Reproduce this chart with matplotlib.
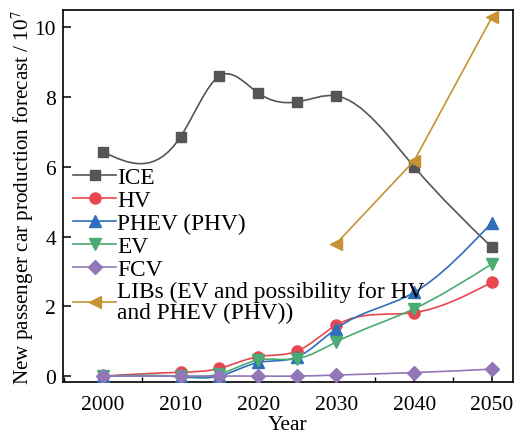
import numpy as np
import matplotlib
matplotlib.use("Agg")
import matplotlib.pyplot as plt
from matplotlib.path import Path
from matplotlib.patches import PathPatch
from matplotlib.lines import Line2D
from matplotlib.ticker import MultipleLocator

plt.rcParams['font.family'] = ['Liberation Serif', 'DejaVu Serif']
plt.rcParams['mathtext.fontset'] = 'stix'

years = [2000, 2010, 2015, 2020, 2025, 2030, 2040, 2050]
ice = [6.43, 6.86, 8.60, 8.11, 7.86, 8.03, 6.00, 3.69]
hv = [0.00, 0.11, 0.22, 0.56, 0.72, 1.46, 1.82, 2.69]
phev = [0.00, -0.02, 0.00, 0.39, 0.55, 1.36, 2.40, 4.40]
ev = [0.00, 0.00, 0.06, 0.46, 0.50, 0.98, 1.93, 3.22]
fcv = [0.00, 0.00, 0.00, 0.00, 0.00, 0.03, 0.10, 0.20]
lib_years = [2030, 2040, 2050]
libs = [3.80, 6.17, 10.29]

labels = ['ICE', 'HV', 'PHEV (PHV)', 'EV', 'FCV',
          'LIBs (EV and possibility for HV\nand PHEV (PHV))']
colors = ['#555555', '#e8474f', '#2f6eba', '#4aab73', '#9176b8', '#c59234']
markers = ['s', 'o', '^', 'v', 'D', '<']
msizes = [7, 8, 9, 9, 7.5, 9]
smooth = [True, True, True, True, True, False]


def spline_path(x, y):
    x = np.asarray(x, float)
    y = np.asarray(y, float)
    n = len(x)
    h = np.diff(x)
    A = np.zeros((n, n))
    b = np.zeros(n)
    A[0, 0] = 2 * h[0]; A[0, 1] = h[0]
    b[0] = 3 * (y[1] - y[0])
    A[-1, -1] = 2 * h[-1]; A[-1, -2] = h[-1]
    b[-1] = 3 * (y[-1] - y[-2])
    for i in range(1, n - 1):
        A[i, i - 1] = h[i]
        A[i, i] = 2 * (h[i - 1] + h[i])
        A[i, i + 1] = h[i - 1]
        b[i] = 3 * (h[i] * (y[i] - y[i - 1]) / h[i - 1] + h[i - 1] * (y[i + 1] - y[i]) / h[i])
    m = np.linalg.solve(A, b)
    verts = [(x[0], y[0])]
    codes = [Path.MOVETO]
    for i in range(n - 1):
        d = h[i] / 3
        verts += [(x[i] + d, y[i] + d * m[i]), (x[i + 1] - d, y[i + 1] - d * m[i + 1]), (x[i + 1], y[i + 1])]
        codes += [Path.CURVE4] * 3
    return Path(verts, codes)


fig = plt.figure(figsize=(5.27, 4.35), dpi=100)
ax = fig.add_axes([0.1195, 0.1195, 0.854, 0.855])

series = [(years, ice), (years, hv), (years, phev), (years, ev), (years, fcv), (lib_years, libs)]
handles = []
for k, ((xs, ys), c, mk, ms, lab, sm) in enumerate(zip(series, colors, markers, msizes, labels, smooth)):
    if sm:
        p = PathPatch(spline_path(xs, ys), facecolor='none', edgecolor=c, lw=1.2, zorder=2 + k)
        ax.add_patch(p)
        ax.plot(xs, ys, ls='none', marker=mk, ms=ms, color=c, mec=c, zorder=2.5 + k)
    else:
        ax.plot(xs, ys, ls='-', lw=1.2, marker=mk, ms=ms, color=c, mec=c, zorder=2.5 + k)
    handles.append(Line2D([], [], color=c, lw=1.2, marker=mk, ms=ms, mec=c))

ax.set_xlim(1994.9, 2052.7)
ax.set_ylim(-0.17, 10.49)
ax.set_xticks([2000, 2010, 2020, 2030, 2040, 2050])
ax.xaxis.set_minor_locator(MultipleLocator(5))
ax.set_yticks([0, 2, 4, 6, 8, 10])
ax.tick_params(axis='both', which='major', direction='in', length=6, width=1.1, labelsize=15.5)
ax.tick_params(axis='x', which='major', pad=9)
ax.tick_params(axis='y', which='major', pad=5)
ax.tick_params(axis='both', which='minor', direction='in', length=3.5, width=1.0)
ax.tick_params(axis='y', which='minor', left=False)
for s in ax.spines.values():
    s.set_linewidth(1.2)

ax.set_xlabel('Year', fontsize=15.5, labelpad=1)
ax.set_ylabel('New passenger car production forecast / 10$^7$', fontsize=15.2, labelpad=-1)

leg = ax.legend(handles, labels, loc='upper left', bbox_to_anchor=(0.023, 0.578),
                frameon=False, fontsize=16.8, handlelength=1.85, handletextpad=0.03,
                labelspacing=0.065, borderaxespad=0.0, borderpad=0.0)
for t in leg.get_texts():
    t.set_linespacing(0.95)

fig.savefig('out.png', dpi=100)
